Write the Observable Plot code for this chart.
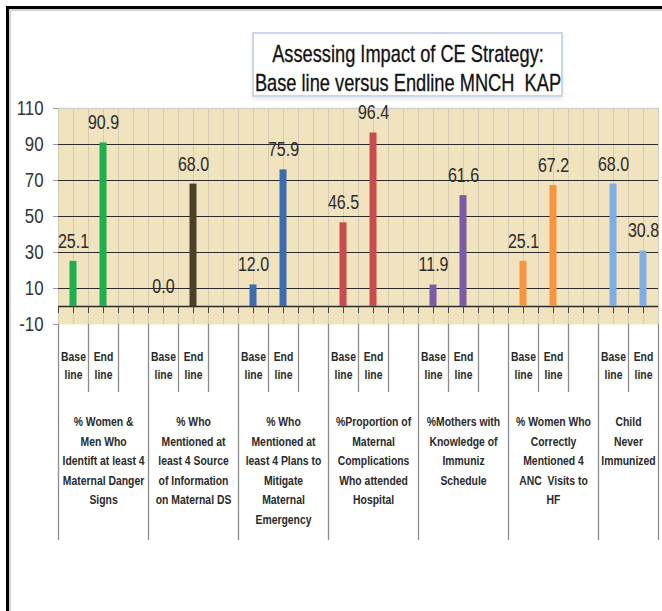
<!DOCTYPE html>
<html>
<head>
<meta charset="utf-8">
<script src="https://cdn.jsdelivr.net/npm/d3@7"></script>
<script src="https://cdn.jsdelivr.net/npm/@observablehq/plot@0.6"></script>
<style>
  body { margin: 0; background: #fff; }
  #wrap { position: relative; width: 662px; height: 611px; overflow: hidden; background: #fff; }
  #chart { position: absolute; left: 0; top: 0; }
  #border { position: absolute; left: 6px; top: 6px; right: -20px; bottom: -20px; border-left: 3px solid #000; border-top: 3px solid #000; }
  #border2 { position: absolute; left: 9px; top: 9px; right: -20px; bottom: -20px; border-left: 2px solid #d4d4d4; border-top: 2px solid #d4d4d4; }
  #title { position: absolute; left: 252px; top: 32px; width: 307px; height: 61px; border: 2px solid #c9d7ec;
    background: #fff; box-shadow: 0 3px 4px rgba(0,0,0,0.08);
    font-family: "Liberation Sans", Arial, sans-serif; font-size: 24px; line-height: 29px;
    color: #111; box-sizing: content-box; white-space: nowrap; -webkit-text-stroke: 0.3px #111; }
  #title .ln { position: relative; height: 29px; }
  #title .ln span { position: absolute; left: 50%; top: 0; transform: translateX(-50%) scaleX(0.76); }
  #title .l1 { margin-top: 5px; }
</style>
</head>
<body>
<div id="wrap">
  <div id="border"></div>
  <div id="border2"></div>
  <div id="chart"></div>
  <div id="title"><div class="ln l1"><span>Assessing Impact of CE Strategy:</span></div><div class="ln"><span>Base line versus Endline MNCH&nbsp; KAP</span></div></div>
</div>
<script>
const groups = [
  "% Women &\nMen Who\nIdentift at least 4\nMaternal Danger\nSigns",
  "% Who\nMentioned at\nleast 4 Source\nof Information\non Maternal DS",
  "% Who\nMentioned at\nleast 4 Plans to\nMitigate\nMaternal\nEmergency",
  "%Proportion of\nMaternal\nComplications\nWho attended\nHospital",
  "%Mothers with\nKnowledge of\nImmuniz\nSchedule",
  "% Women Who\nCorrectly\nMentioned 4\nANC  Visits to\nHF",
  "Child\nNever\nImmunized"
];
const baseline = [25.1, 0.0, 12.0, 46.5, 11.9, 25.1, 68.0];
const endline  = [90.9, 68.0, 75.9, 96.4, 61.6, 67.2, 30.8];
const barColors = ["#1db04d", "#4a4128", "#3d6cb1", "#c94b4d", "#7b5aa6", "#f6953f", "#7eaee4"];
const periodLabels = {b: "Base\nline", e: "End\nline"};
const yTicks = [-10, 10, 30, 50, 70, 90, 110];
const gridValues = [10, 30, 50, 70, 90];

const FONT = '"Liberation Sans", Arial, sans-serif';
const CONDENSE = 0.8;
const W = 662, H = 611, ML = 58, MR = 4, MT = 108, MB = 287;

const slots = [];
groups.forEach((g, i) => { slots.push(`${i}b`, `${i}e`); if (i < groups.length - 1) slots.push(`${i}s`); });
const bw = (W - ML - MR) / slots.length;
const half = bw / 2;

const bars = groups.flatMap((g, i) => [
  {slot: `${i}b`, kind: "b", v: baseline[i], c: barColors[i]},
  {slot: `${i}e`, kind: "e", v: endline[i], c: barColors[i]}
]);
const lastSlot = slots[slots.length - 1];
const groupStarts = groups.map((g, i) => `${i}b`);
const innerEdges = groups.flatMap((g, i) => i < groups.length - 1 ? [`${i}e`, `${i}s`] : [`${i}e`]);

const bgLine = "#d3cbb8";
const sepLine = "#8c8c8c";

const chart = Plot.plot({
  width: W, height: H,
  marginLeft: ML, marginRight: MR, marginTop: MT, marginBottom: MB,
  style: {fontFamily: FONT, background: "transparent", overflow: "visible"},
  x: {type: "band", domain: slots, padding: 0, axis: null},
  y: {domain: [-10, 110], axis: null},
  color: {type: "identity"},
  marks: [
    Plot.frame({fill: "#f1e3bd", stroke: null}),
    Plot.ruleX(slots, {x: d => d, stroke: bgLine, strokeWidth: 1}),
    Plot.ruleX(slots, {x: d => d, dx: -half, stroke: bgLine, strokeWidth: 1}),
    Plot.ruleX([lastSlot], {x: d => d, dx: half, stroke: bgLine, strokeWidth: 1}),
    Plot.ruleY([110], {stroke: "#cfcfcf", strokeWidth: 1.5}),
    Plot.ruleY(gridValues, {stroke: "#2b2b2b", strokeWidth: 1.2}),
    Plot.ruleY([0], {stroke: "#2b2b2b", strokeWidth: 1.6}),
    Plot.ruleX(slots, {x: d => d, y1: 0, y2: 0, insetBottom: -7, stroke: "#444", strokeWidth: 1}),
    Plot.ruleX(slots, {x: d => d, dx: -half, y1: 0, y2: 0, insetBottom: -7, stroke: "#444", strokeWidth: 1}),
    Plot.barY(bars, {x: "slot", y: "v", fill: "c", insetLeft: (bw - 7) / 2, insetRight: (bw - 7) / 2}),
    Plot.text(bars, {x: "slot", y: "v", text: d => d.v.toFixed(1), dy: -20, fontSize: 20, fill: "#2b2b2b"}),
    Plot.axisY(yTicks, {label: null, tickSize: 5, tickPadding: 10, fontSize: 21, color: "#333", stroke: "#999",
      tickFormat: d => String(d)}),
    Plot.ruleX(innerEdges, {x: d => d, dx: -half, insetTop: 216, insetBottom: -68, stroke: sepLine, strokeWidth: 1.3}),
    Plot.ruleX(groupStarts, {x: d => d, dx: -half, insetTop: 216, insetBottom: -216, stroke: sepLine, strokeWidth: 1.3}),
    Plot.ruleX([lastSlot], {x: d => d, dx: half, insetTop: 216, insetBottom: -216, stroke: sepLine, strokeWidth: 1.3}),
    Plot.text(bars, {x: "slot", text: d => periodLabels[d.kind], frameAnchor: "bottom", lineAnchor: "top",
      dy: 23, fontSize: 13, fontWeight: "bold", lineHeight: 1.42, fill: "#2a2a2a"}),
    Plot.text(groups.slice(0, -1), {x: (d, i) => `${i}e`, text: d => d, frameAnchor: "bottom", lineAnchor: "top",
      dy: 88, fontSize: 13, fontWeight: "bold", lineHeight: 1.5, fill: "#2a2a2a"}),
    Plot.text(groups.slice(-1), {x: () => `${groups.length - 1}e`, dx: -half, text: d => d, frameAnchor: "bottom", lineAnchor: "top",
      dy: 88, fontSize: 13, fontWeight: "bold", lineHeight: 1.5, fill: "#2a2a2a"})
  ]
});
document.getElementById("chart").appendChild(chart);

// condense all texts horizontally around their anchor (narrow-font look)
chart.querySelectorAll("text").forEach(t => {
  let b;
  try { b = t.getBBox(); } catch (e) { return; }
  if (!b || !isFinite(b.x) || !isFinite(b.width)) return;
  const anchor = getComputedStyle(t).textAnchor;
  const ax = anchor === "end" ? b.x + b.width : anchor === "middle" ? b.x + b.width / 2 : b.x;
  const T = t.getAttribute("transform") || "";
  t.setAttribute("transform", `${T} translate(${ax},0) scale(${CONDENSE},1) translate(${-ax},0)`.trim());
});
</script>
</body>
</html>
